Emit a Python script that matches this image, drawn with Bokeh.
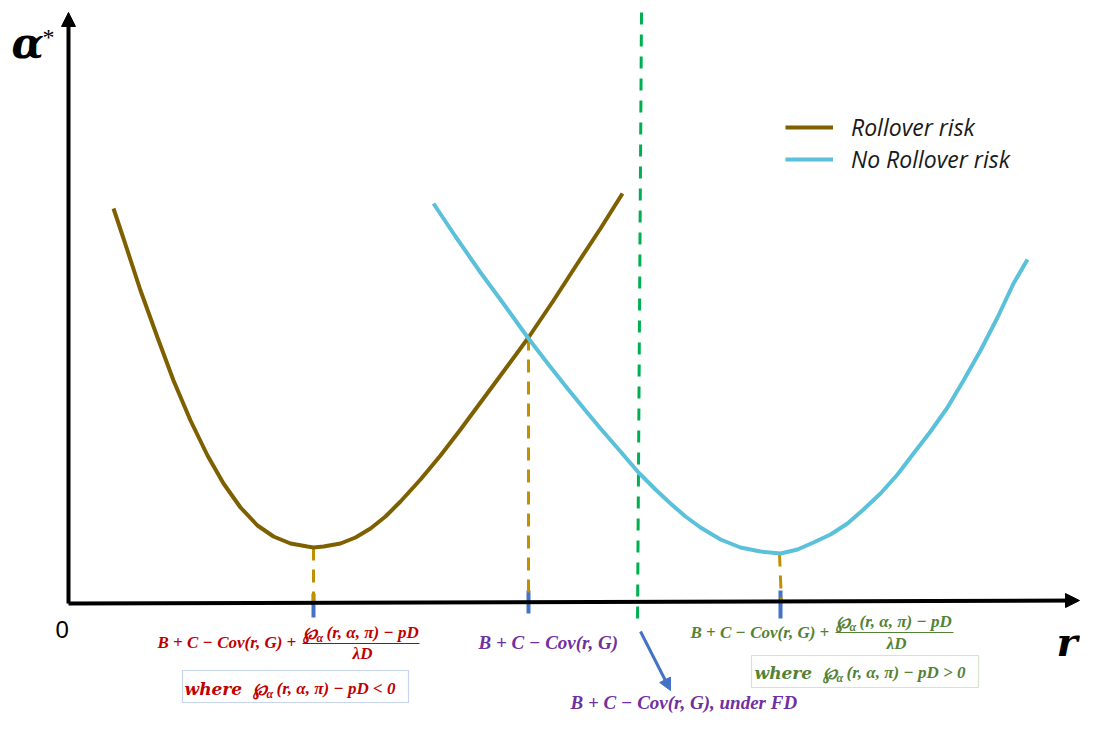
from bokeh.plotting import figure
from bokeh.models import (Range1d, Label, Arrow, NormalHead, Legend, LegendItem,
                          BoxAnnotation)
from bokeh.embed import file_html
from bokeh.resources import INLINE

# ---------------- data (r, alpha*) ----------------
rollover_r = [0.45, 0.55, 0.72, 0.89, 1.05, 1.22, 1.39, 1.55, 1.72, 1.89, 2.05, 2.22,
              2.39, 2.45, 2.55, 2.72, 2.87, 3.02, 3.17, 3.32, 3.52, 3.72, 3.92, 4.12,
              4.32, 4.60, 4.85, 5.07, 5.32, 5.54]
rollover_a = [3.95, 3.65, 3.13, 2.66, 2.23, 1.83, 1.48, 1.20, 0.96, 0.78, 0.67, 0.60,
              0.57, 0.56, 0.57, 0.60, 0.66, 0.75, 0.87, 1.02, 1.24, 1.48, 1.74, 2.01,
              2.28, 2.66, 3.03, 3.37, 3.75, 4.10]
norollover_r = [3.65, 3.87, 4.12, 4.37, 4.60, 4.80, 4.99, 5.17, 5.32, 5.52, 5.70, 5.87,
                6.02, 6.17, 6.32, 6.52, 6.72, 6.92, 7.12, 7.29, 7.45, 7.62, 7.79, 7.95,
                8.12, 8.29, 8.45, 8.62, 8.79, 8.95, 9.12, 9.29, 9.45, 9.59]
norollover_a = [4.00, 3.67, 3.31, 2.97, 2.65, 2.39, 2.15, 1.93, 1.75, 1.52, 1.31, 1.14,
                1.00, 0.87, 0.76, 0.64, 0.56, 0.52, 0.50, 0.54, 0.61, 0.69, 0.80, 0.94,
                1.10, 1.29, 1.50, 1.72, 1.96, 2.23, 2.53, 2.86, 3.20, 3.44]
# key points on the r axis
r_low, a_low = 2.45, 0.56        # minimum of rollover-risk curve
r_cross, a_cross = 4.60, 2.66    # intersection of the two curves
r_fd = 5.71                      # under FD
r_high, a_high = 7.12, 0.50      # minimum of no-rollover-risk curve
series_names = ["Rollover risk", "No Rollover risk"]


# reference-pixel helpers -> data units (annotation placement only)
def X(px):
    return (px - 68) / 100.0


def Y(py):
    return (603 - py) / 100.0


W, H = 1080, 713
p = figure(width=W, height=H, output_backend="svg", toolbar_location=None,
           x_range=Range1d(X(0), X(W)), y_range=Range1d(Y(H), Y(0)),
           x_axis_location=None, y_axis_location=None, min_border=0)
p.grid.visible = False
p.outline_line_color = None
p.background_fill_color = "white"

BROWN = "#7F6000"
CYAN = "#5BC0DA"
ORANGE = "#BF9000"
GREEN = "#00B050"
TICKBLUE = "#4472C4"
RED = "#C00000"
PURPLE = "#7030A0"
DGREEN = "#548235"
BOXGREEN = "#70AD47"

# axes with arrowheads
p.add_layout(Arrow(end=NormalHead(size=14, fill_color="black", line_color="black"),
                   x_start=0, y_start=0, x_end=0, y_end=Y(12),
                   line_width=4, line_color="black"))
p.add_layout(Arrow(end=NormalHead(size=14, fill_color="black", line_color="black"),
                   x_start=0, y_start=0, x_end=X(1079), y_end=Y(600),
                   line_width=4, line_color="black"))

# blue tick marks on the r axis
p.segment(x0=[r_low, r_cross, r_high], y0=[Y(593), Y(590), Y(590)],
          x1=[r_low, r_cross, r_high], y1=[Y(617), Y(613), Y(618)],
          line_color=TICKBLUE, line_width=4)

# dashed drop lines
p.segment(x0=[r_low, r_cross, r_high - 0.01], y0=[a_low, a_cross, a_high],
          x1=[r_low, r_cross, r_high + 0.01], y1=[0, 0, 0],
          line_color=ORANGE, line_width=3, line_dash="13 9")

# green vertical dashed line (FD)
p.segment(x0=[r_fd + 0.02], y0=[Y(12)], x1=[r_fd - 0.02], y1=[Y(621)],
          line_color=GREEN, line_width=3, line_dash="12 10")

# curves
l1 = p.line(rollover_r, rollover_a, line_color=BROWN, line_width=4)
l2 = p.line(norollover_r, norollover_a, line_color=CYAN, line_width=4)

legend = Legend(items=[LegendItem(label=series_names[0], renderers=[l1]),
                       LegendItem(label=series_names[1], renderers=[l2])],
                location=(785, 538), border_line_alpha=0, background_fill_alpha=0,
                padding=0, margin=0, spacing=0, glyph_width=48, glyph_height=22,
                label_standoff=18, label_text_font="Open Sans",
                label_text_font_style="italic", label_text_font_size="23px",
                label_text_color="#1a1a1a")
p.add_layout(legend)

# blue arrow to the "under FD" label
p.add_layout(Arrow(end=NormalHead(size=12, fill_color=TICKBLUE, line_color=TICKBLUE),
                   x_start=X(640), y_start=Y(631), x_end=X(670), y_end=Y(690),
                   line_width=3, line_color=TICKBLUE))

SERIF = "Liberation Serif"
MATH = "DejaVu Serif"


def lab(text, px, py, color="black", size=18, style="bold italic", align="left",
        baseline="middle", font=SERIF):
    p.add_layout(Label(x=X(px), y=Y(py), text=text, text_color=color,
                       text_font_size=f"{size}px", text_font_style=style,
                       text_align=align, text_baseline=baseline, text_font=font))


def wp(px, py, color, rest, size=17):
    # "℘_α" followed by the rest of the expression
    lab("℘", px, py, color, size, font=MATH)
    lab("α", px + 14, py + 5, color, 12)
    lab(rest, px + 24, py, color, size)


# axis titles
lab("α", 11, 43, size=42, font=MATH)
lab("*", 42, 36, size=24, style="normal", font=SERIF)
lab("0", 55, 629, size=24, style="normal", font="Liberation Sans")
lab("r", 1077, 641, size=40, font=MATH, align="right")


def formula(x0, y0, color, num_x, num_y, bar_x1, den_x, den_y, bar_y, size=17):
    lab("B + C − Cov(r, G) +", x0, y0, color, size)
    wp(num_x, num_y, color, "(r, α, π) − pD", size)
    p.segment(x0=[X(num_x)], y0=[Y(bar_y)], x1=[X(bar_x1)], y1=[Y(bar_y)],
              line_color=color, line_width=1.2)
    lab("λD", den_x, den_y, color, size, align="center")


def where(x0, y0, color, sign, size=17):
    lab("where", x0, y0, color, size, font=MATH)
    wp(x0 + 68, y0, color, "(r, α, π) − pD " + sign + " 0", size)


# left (red)
formula(157, 642, RED, 302, 632, 419, 362, 653, 643)
p.add_layout(BoxAnnotation(left=X(182), right=X(408), top=Y(670), bottom=Y(702),
                           fill_alpha=0, line_color=TICKBLUE, line_width=1.2))
where(184, 688, RED, "<")

# middle (purple)
lab("B + C − Cov(r, G)", 478, 642, PURPLE, 19)
lab("B + C − Cov(r, G), under FD", 570, 702, PURPLE, 19)

# right (green)
formula(690, 632, DGREEN, 835, 621, 953, 896, 643, 632)
p.add_layout(BoxAnnotation(left=X(751), right=X(978), top=Y(655), bottom=Y(687),
                           fill_alpha=0, line_color=BOXGREEN, line_width=1.2))
where(754, 672, DGREEN, ">")

open("out.html", "w").write(file_html(p, INLINE))
